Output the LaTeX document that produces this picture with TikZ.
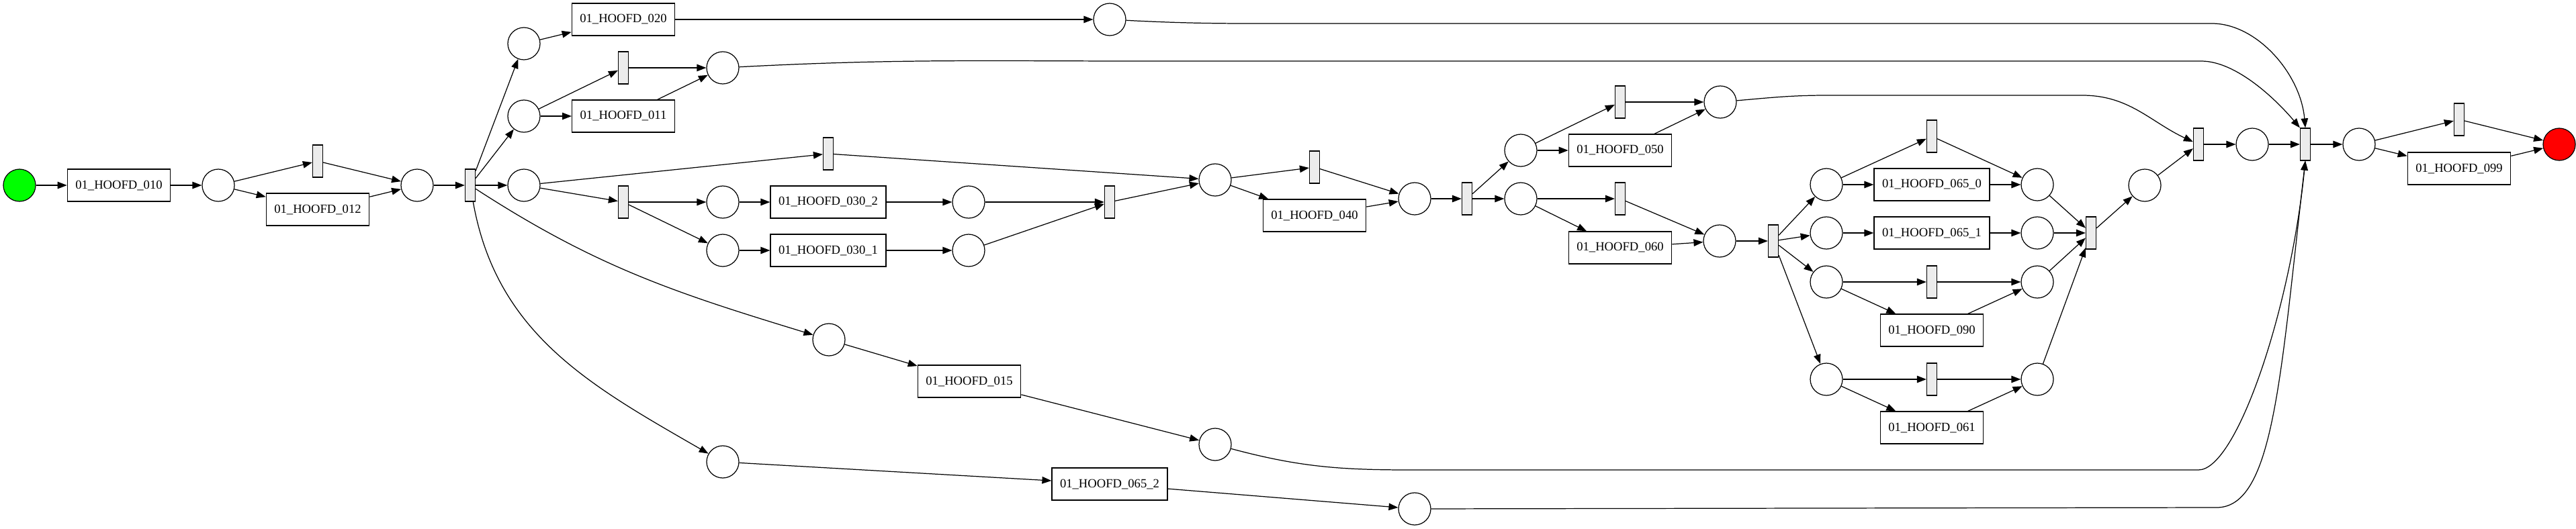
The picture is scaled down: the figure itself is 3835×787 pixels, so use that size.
\documentclass[tikz,border=0pt]{standalone}
\usepackage{fontspec}
\setmainfont{Liberation Serif}
\usepackage{tikz}
\usetikzlibrary{arrows.meta}

\begin{document}
\begin{tikzpicture}[x=0.1mm,y=0.1mm,
	place/.style={circle,draw,line width=0.35pt,minimum size=4.8mm,inner sep=0pt},
	trans/.style={rectangle,draw,line width=0.35pt,minimum height=4.8mm,inner xsep=1.2mm,inner ysep=0pt,font=\fontsize{5.3}{6}\selectfont},
	silent/.style={rectangle,draw,fill=gray!15,line width=0.35pt,minimum width=1.5mm,minimum height=4.8mm,inner sep=0pt},
	flow/.style={-{Triangle[length=1.4mm,width=1.05mm]},line width=0.35pt}]
				\useasboundingbox (0,0) rectangle (3835,-787);
				\node[place,fill=green] (pin) at (29,-276) {};
				\node[place] (p1) at (325,-276) {};
				\node[place] (p2) at (621,-276) {};
				\node[place] (p3) at (780,-65) {};
				\node[place] (p4) at (1652,-29) {};
				\node[place] (p5) at (780,-173) {};
				\node[place] (p6) at (1076,-101) {};
				\node[place] (p7) at (780,-276) {};
				\node[place] (p8) at (1076,-301) {};
				\node[place] (p9) at (1442,-301) {};
				\node[place] (p10) at (1076,-373) {};
				\node[place] (p11) at (1442,-373) {};
				\node[place] (p12) at (1809,-268) {};
				\node[place] (p13) at (2106,-296) {};
				\node[place] (p14) at (2264,-224) {};
				\node[place] (p15) at (2264,-296) {};
				\node[place] (p16) at (2561,-152) {};
				\node[place] (p17) at (2560,-359) {};
				\node[place] (p18) at (2719,-275) {};
				\node[place] (p19) at (2719,-347) {};
				\node[place] (p20) at (2719,-420) {};
				\node[place] (p21) at (2719,-565) {};
				\node[place] (p22) at (3033,-275) {};
				\node[place] (p23) at (3033,-347) {};
				\node[place] (p24) at (3033,-420) {};
				\node[place] (p25) at (3033,-565) {};
				\node[place] (p26) at (3193,-276) {};
				\node[place] (p27) at (3353,-215) {};
				\node[place] (p28) at (3512,-215) {};
				\node[place,fill=red] (pout) at (3810,-215) {};
				\node[place] (p29) at (1234,-506) {};
				\node[place] (p30) at (1809,-662) {};
				\node[place] (p31) at (1076,-688) {};
				\node[place] (p32) at (2106,-758) {};

				\node[trans] (h010) at (177,-276) {01\_HOOFD\_010};
				\node[trans] (h012) at (473,-312) {01\_HOOFD\_012};
				\node[trans] (h020) at (928,-29) {01\_HOOFD\_020};
				\node[trans] (h011) at (928,-173) {01\_HOOFD\_011};
				\node[trans] (h0302) at (1233,-301) {01\_HOOFD\_030\_2};
				\node[trans] (h0301) at (1233,-373) {01\_HOOFD\_030\_1};
				\node[trans] (h015) at (1443,-568) {01\_HOOFD\_015};
				\node[trans] (h0652) at (1652,-721) {01\_HOOFD\_065\_2};
				\node[trans] (h040) at (1957,-321) {01\_HOOFD\_040};
				\node[trans] (h050) at (2412,-224) {01\_HOOFD\_050};
				\node[trans] (h060) at (2412,-369) {01\_HOOFD\_060};
				\node[trans] (h0650) at (2876,-275) {01\_HOOFD\_065\_0};
				\node[trans] (h0651) at (2876,-347) {01\_HOOFD\_065\_1};
				\node[trans] (h090) at (2876,-492) {01\_HOOFD\_090};
				\node[trans] (h061) at (2876,-637) {01\_HOOFD\_061};
				\node[trans] (h099) at (3661,-251) {01\_HOOFD\_099};

				\node[silent] (s1) at (473,-240) {};
				\node[silent] (s2) at (700,-276) {};
				\node[silent] (s3) at (928,-101) {};
				\node[silent] (s4) at (1233,-229) {};
				\node[silent] (s5) at (928,-301) {};
				\node[silent] (s6) at (1652,-301) {};
				\node[silent] (s7) at (1957,-249) {};
				\node[silent] (s8) at (2184,-296) {};
				\node[silent] (s9) at (2412,-152) {};
				\node[silent] (s10) at (2412,-296) {};
				\node[silent] (s11) at (2640,-359) {};
				\node[silent] (s12) at (2876,-203) {};
				\node[silent] (s13) at (2876,-420) {};
				\node[silent] (s14) at (2876,-565) {};
				\node[silent] (s15) at (3113,-347) {};
				\node[silent] (s16) at (3273,-215) {};
				\node[silent] (s17) at (3432,-215) {};
				\node[silent] (s18) at (3661,-178) {};

				\draw[flow] (pin) -- (h010);
				\draw[flow] (h010) -- (p1);
				\draw[flow] (p1) -- (s1);
				\draw[flow] (p1) -- (h012);
				\draw[flow] (s1) -- (p2);
				\draw[flow] (h012) -- (p2);
				\draw[flow] (p2) -- (s2);
				\draw[flow] (s2) -- (p3);
				\draw[flow] (s2) -- (p5);
				\draw[flow] (s2) -- (p7);
				\draw[flow] (s2) to[out=-33,in=163] (p29);
				\draw[flow] (s2) to[out=-80,in=150] (p31);
				\draw[flow] (p3) -- (h020);
				\draw[flow] (h020) -- (p4);
				\draw[flow] (p5) -- (s3);
				\draw[flow] (p5) -- (h011);
				\draw[flow] (s3) -- (p6);
				\draw[flow] (h011) -- (p6);
				\draw[flow] (p7) -- (s4);
				\draw[flow] (p7) -- (s5);
				\draw[flow] (s5) -- (p8);
				\draw[flow] (s5) -- (p10);
				\draw[flow] (p8) -- (h0302);
				\draw[flow] (p10) -- (h0301);
				\draw[flow] (h0302) -- (p9);
				\draw[flow] (h0301) -- (p11);
				\draw[flow] (p9) -- (s6);
				\draw[flow] (p11) -- (s6);
				\draw[flow] (s4) -- (p12);
				\draw[flow] (s6) -- (p12);
				\draw[flow] (p12) -- (s7);
				\draw[flow] (p12) -- (h040);
				\draw[flow] (s7) -- (p13);
				\draw[flow] (h040) -- (p13);
				\draw[flow] (p13) -- (s8);
				\draw[flow] (s8) -- (p14);
				\draw[flow] (s8) -- (p15);
				\draw[flow] (p14) -- (s9);
				\draw[flow] (p14) -- (h050);
				\draw[flow] (s9) -- (p16);
				\draw[flow] (h050) -- (p16);
				\draw[flow] (p15) -- (s10);
				\draw[flow] (p15) -- (h060);
				\draw[flow] (s10) -- (p17);
				\draw[flow] (h060) -- (p17);
				\draw[flow] (p17) -- (s11);
				\draw[flow] (s11) -- (p18);
				\draw[flow] (s11) -- (p19);
				\draw[flow] (s11) -- (p20);
				\draw[flow] (s11) -- (p21);
				\draw[flow] (p18) -- (s12);
				\draw[flow] (p18) -- (h0650);
				\draw[flow] (s12) -- (p22);
				\draw[flow] (h0650) -- (p22);
				\draw[flow] (p19) -- (h0651);
				\draw[flow] (h0651) -- (p23);
				\draw[flow] (p20) -- (s13);
				\draw[flow] (p20) -- (h090);
				\draw[flow] (s13) -- (p24);
				\draw[flow] (h090) -- (p24);
				\draw[flow] (p21) -- (s14);
				\draw[flow] (p21) -- (h061);
				\draw[flow] (s14) -- (p25);
				\draw[flow] (h061) -- (p25);
				\draw[flow] (p22) -- (s15);
				\draw[flow] (p23) -- (s15);
				\draw[flow] (p24) -- (s15);
				\draw[flow] (p25) -- (s15);
				\draw[flow] (s15) -- (p26);
				\draw[flow] (p26) -- (s16);
				\draw[flow] (s16) -- (p27);
				\draw[flow] (p27) -- (s17);
				\draw[flow] (p29) -- (h015);
				\draw[flow] (h015) -- (p30);
				\draw[flow] (p31) -- (h0652);
				\draw[flow] (h0652) -- (p32);
				\draw[flow] (p4) to[out=-3,in=180] (1950,-35) -- (3293,-35) .. controls (3360,-35) and (3425,-110) .. (s17.north);
				\draw[flow] (p6) to[out=3,in=180] (1700,-91) -- (3277,-91) .. controls (3330,-91) and (3390,-150) .. (s17.north west);
				\draw[flow] (p16) to[out=5,in=180] (2720,-142) -- (3100,-142) to[out=0,in=155] (s16);
				\draw[flow] (p30) to[out=-15,in=180] (2100,-700) -- (3273,-700) .. controls (3330,-700) and (3410,-460) .. (s17.south);
				\draw[flow] (p32) -- (3300,-756) .. controls (3385,-756) and (3395,-560) .. (s17.south);
				\draw[flow] (s17) -- (p28);
				\draw[flow] (p28) -- (s18);
				\draw[flow] (p28) -- (h099);
				\draw[flow] (s18) -- (pout);
				\draw[flow] (h099) -- (pout);
			\end{tikzpicture}
\end{document}
